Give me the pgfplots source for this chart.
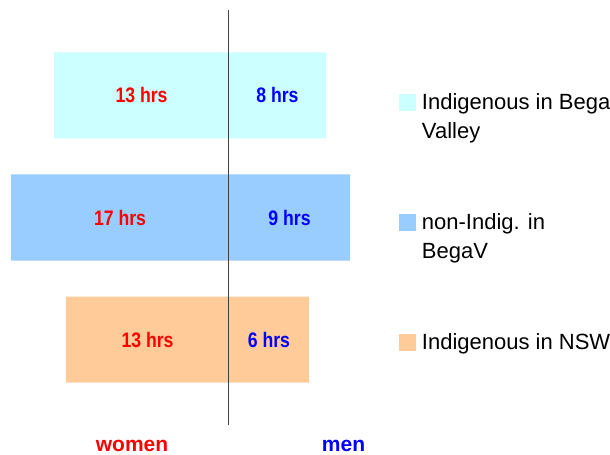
\documentclass[border=0pt]{standalone}
\usepackage{pgfplots}
\pgfplotsset{compat=1.18}
\usepackage{fontspec}
\setmainfont{Liberation Sans}
\newfontfamily\narrowfont[FakeStretch=0.84]{Liberation Sans}
\definecolor{cyanbar}{HTML}{CCFFFF}
\definecolor{bluebar}{HTML}{99CCFF}
\definecolor{orangebar}{HTML}{FFCC99}
\definecolor{axisgray}{HTML}{404040}
\newcommand{\lgd}[1]{\smash{\begin{tabular}[t]{@{}l@{}}#1\end{tabular}}}
\begin{document}
\begin{tikzpicture}
\useasboundingbox (0,0) rectangle (610bp,455bp);
\begin{axis}[
  at={(0bp,30bp)}, anchor=south west,
  scale only axis, width=390bp, height=415bp,
  xmin=-17.615, xmax=12.385, ymin=0.3, ymax=3.7,
  axis on top,
  axis y line=center, axis x line=bottom,
  y axis line style={-, draw=axisgray, line width=1bp},
  x axis line style={draw=none},
  ytick=\empty,
  xtick={-7.46,8.81}, xticklabels={\textcolor{red}{women},\textcolor{blue}{men}},
  major tick length=0pt,
  xticklabel style={anchor=base, yshift=-26bp, font=\fontsize{21bp}{25bp}\selectfont\bfseries},
  legend cell align=left,
  legend style={draw=none, fill=none, inner sep=0pt, outer sep=0pt,
    at={(1.023,0.7614)}, anchor=north west,
    row sep=118.5bp, column sep=6bp,
    nodes={inner sep=0pt, outer sep=0pt},
    font=\fontsize{22bp}{29bp}\selectfont},
  legend image code/.code={\path (0,0) rectangle (17bp,0); \fill[#1, overlay] (0,-1bp) rectangle (17bp,16bp);},
]
\addplot[xbar, bar width=0.705, bar shift=0pt, fill=cyanbar, draw=none] coordinates {(-13.46,3) (7.46,3)};
\addlegendentry{\lgd{Indigenous in Bega\\Valley}}
\addplot[xbar, bar width=0.705, bar shift=0pt, fill=bluebar, draw=none] coordinates {(-16.77,2) (9.31,2)};
\addlegendentry{\lgd{non-Indig. in\\BegaV}}
\addplot[xbar, bar width=0.705, bar shift=0pt, fill=orangebar, draw=none] coordinates {(-12.54,1) (6.15,1)};
\addlegendentry{\lgd{Indigenous in NSW}}
\addplot[forget plot, draw=none, mark=none, nodes near coords, point meta=explicit symbolic,
  nodes near coords style={anchor=center, text=red, font=\fontsize{21bp}{25bp}\selectfont\narrowfont\bfseries}]
  coordinates {(-6.73,3) [13 hrs] (-8.385,2) [17 hrs] (-6.27,1) [13 hrs]};
\addplot[forget plot, draw=none, mark=none, nodes near coords, point meta=explicit symbolic,
  nodes near coords style={anchor=center, text=blue, font=\fontsize{21bp}{25bp}\selectfont\narrowfont\bfseries}]
  coordinates {(3.73,3) [8 hrs] (4.655,2) [9 hrs] (3.075,1) [6 hrs]};
\end{axis}
\end{tikzpicture}
\end{document}
